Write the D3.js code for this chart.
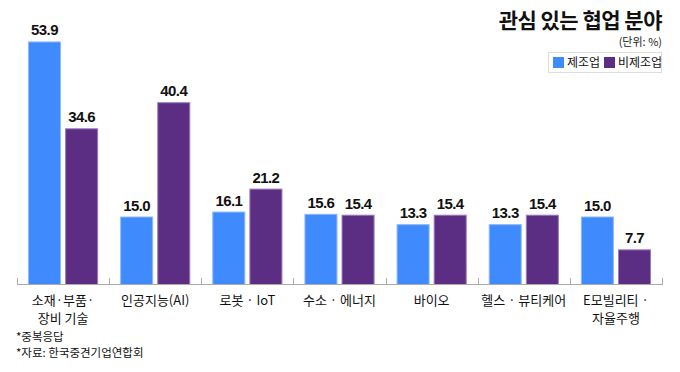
<!DOCTYPE html>
<html><head><meta charset="utf-8">
<script src="https://cdn.jsdelivr.net/npm/d3@7"></script>
<style>
body{margin:0;background:#fff;}
svg{display:block;}
.kr{font-family:"Noto Sans CJK KR","Noto Sans",sans-serif;}
</style></head>
<body>
<svg id="c" width="680" height="372"></svg>
<script>
const categories = [["소재·부품·","장비 기술"],["인공지능(AI)"],["로봇 · IoT"],["수소 · 에너지"],["바이오"],["헬스 · 뷰티케어"],["E모빌리티 ·","자율주행"]];
const seriesNames = ["제조업","비제조업"];
const manufacturing = [53.9, 15.0, 16.1, 15.6, 13.3, 13.3, 15.0];
const nonManufacturing = [34.6, 40.4, 21.2, 15.4, 15.4, 15.4, 7.7];
const colors = ["#3f8bfd","#5b2e83"];
const strokes = ["#8fb8ff","#9a7bbd"];

const svg = d3.select("#c");
const x0 = d3.scaleBand().domain(d3.range(categories.length)).range([17,662]).paddingInner(0).paddingOuter(0);
const x1 = d3.scaleBand().domain([0,1]).range([11, x0.bandwidth()-11]).paddingInner(0.11);
const y = d3.scaleLinear().domain([0,60]).range([284,14]);

const series = [manufacturing, nonManufacturing];
const g = svg.append("g");
categories.forEach((c,i)=>{
  series.forEach((s,j)=>{
    const bx = x0(i)+x1(j);
    g.append("rect").attr("x",bx+0.5).attr("y",y(s[i])+0.5)
      .attr("width",x1.bandwidth()-1).attr("height",y(0)-y(s[i]))
      .attr("fill",colors[j]).attr("stroke",strokes[j]).attr("stroke-width",1);
    g.append("text").attr("x",bx+x1.bandwidth()/2).attr("y",y(s[i])-6)
      .attr("text-anchor","middle").attr("font-family","Liberation Sans, Arial, sans-serif")
      .attr("font-weight","bold").attr("font-size",15).attr("letter-spacing","-0.6")
      .attr("fill","#111").text(s[i].toFixed(1));
  });
});

// axis
const axis = svg.append("g");
axis.append("line").attr("x1",17).attr("x2",662).attr("y1",284.5).attr("y2",284.5).attr("stroke","#aaa");
const ticks = d3.range(categories.length+1).map(i=> i<categories.length ? x0(i) : 662);
ticks.forEach(t=>{
  axis.append("line").attr("x1",Math.round(t)+0.5).attr("x2",Math.round(t)+0.5).attr("y1",278).attr("y2",285).attr("stroke","#aaa");
});

// category labels
categories.forEach((c,i)=>{
  const t = svg.append("text").attr("class","kr").attr("text-anchor","middle")
    .attr("font-size",13).attr("fill","#111");
  c.forEach((line,k)=>{
    t.append("tspan").attr("x",x0(i)+x0.bandwidth()/2).attr("y",305+k*18).text(line);
  });
});

// title
svg.append("text").attr("class","kr").attr("x",662).attr("y",28).attr("text-anchor","end")
  .attr("font-size",21).attr("font-weight","bold").attr("fill","#111").attr("letter-spacing","-0.5").text("관심 있는 협업 분야");
svg.append("text").attr("class","kr").attr("x",662).attr("y",46).attr("text-anchor","end")
  .attr("font-size",11).attr("fill","#222").text("(단위: %)");

// legend
const lg = svg.append("g");
lg.append("rect").attr("x",548.5).attr("y",52.5).attr("width",113).attr("height",20).attr("fill","#fff").attr("stroke","#ddd");
const lx = [553, 604];
seriesNames.forEach((n,j)=>{
  lg.append("rect").attr("x",lx[j]).attr("y",57).attr("width",11).attr("height",11).attr("fill",colors[j]);
  lg.append("text").attr("class","kr").attr("x",lx[j]+14).attr("y",67).attr("font-size",12).attr("fill","#111").text(n);
});

// footnotes
svg.append("text").attr("class","kr").attr("x",16).attr("y",341).attr("font-size",11.5).attr("fill","#111").text("*중복응답");
svg.append("text").attr("class","kr").attr("x",16).attr("y",357).attr("font-size",11.5).attr("fill","#111").text("*자료: 한국중견기업연합회");
</script>
</body></html>
